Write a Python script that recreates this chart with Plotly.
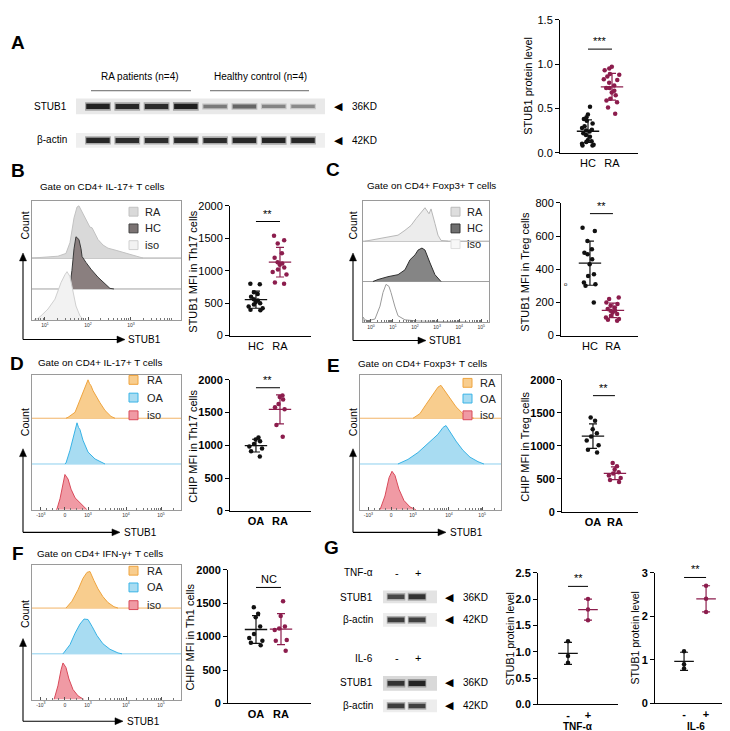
import numpy as np
import plotly.graph_objects as go

W, H = 730, 731
FONT = "Liberation Sans, Arial, sans-serif"

# ======================= DATA =======================
# Panel A western blot (relative band intensity, 0-1)
A_LANES = [1, 2, 3, 4, 5, 6, 7, 8]
A_STUB1 = [0.93, 0.9, 0.88, 0.95, 0.5, 0.6, 0.45, 0.42]
A_ACTIN = [0.9, 0.88, 0.87, 0.9, 0.88, 0.9, 0.92, 0.9]
A_GROUPS = ["RA patients (n=4)", "Healthy control (n=4)"]
# Panel A quantification
A_CATS = ["HC", "RA"]
A_HC = [0.52, 0.43, 0.40, 0.38, 0.36, 0.33, 0.30, 0.28, 0.26, 0.25, 0.24,
        0.22, 0.20, 0.18, 0.14, 0.13, 0.12, 0.10, 0.09, 0.08, 0.08]
A_RA = [0.97, 0.93, 0.95, 0.88, 0.89, 0.86, 0.83, 0.82, 0.79, 0.76, 0.73,
        0.73, 0.70, 0.68, 0.65, 0.61, 0.59, 0.57, 0.51, 0.44]

# Panel B
B_HC = [800, 790, 670, 640, 600, 560, 540, 520, 500, 480, 450, 420, 400, 390]
B_RA = [1540, 1470, 1420, 1270, 1200, 1130, 1110, 1090, 1050, 1020, 980, 940, 820, 800]
B_RA_CH = [0, 107, 174, 228, 255, 282, 302, 315, 336, 356, 376, 389, 403, 423, 443, 477, 510, 564, 624, 691, 745]
B_RA_Y = [0.0, 0.03, 0.06, 0.15, 0.5, 1.3, 1.65, 1.69, 1.5, 1.35, 1.15, 1.0, 0.98, 0.8, 0.6, 0.42, 0.32, 0.25, 0.16, 0.06, 0.0]
B_HC_CH = [228, 255, 268, 282, 295, 315, 329, 336, 362, 396, 443, 490, 523, 550]
B_HC_Y = [0, 0.1, 0.6, 1.3, 1.69, 1.6, 1.3, 1.05, 0.86, 0.64, 0.38, 0.16, 0.02, 0]
B_ISO_CH = [13, 40, 60, 107, 154, 195, 221, 235, 255, 275, 295, 322, 349]
B_ISO_Y = [0, 0.05, 0.13, 0.35, 0.67, 1.21, 1.46, 1.56, 1.4, 0.89, 0.45, 0.13, 0]

# Panel C
C_HC = [650, 630, 570, 520, 500, 490, 460, 430, 370, 360, 320, 310, 300, 200]
C_RA = [230, 220, 200, 190, 180, 170, 160, 150, 150, 140, 130, 120, 110, 100, 95, 90]
C_RA_CH = [16, 175, 278, 333, 381, 421, 460, 492, 524, 540, 571, 595, 619, 675]
C_RA_Y = [0.0, 0.1, 0.15, 0.27, 0.39, 0.56, 0.71, 0.83, 0.68, 0.8, 0.44, 0.15, 0.02, 0.0]
C_HC_CH = [79, 119, 198, 278, 333, 373, 413, 437, 468, 492, 532, 571, 619]
C_HC_Y = [0, 0.05, 0.12, 0.17, 0.29, 0.54, 0.66, 0.78, 0.83, 0.78, 0.46, 0.17, 0]
C_ISO_CH = [0, 16, 40, 95, 135, 159, 183, 206, 222, 254, 278, 333, 437, 595, 833]
C_ISO_Y = [0.12, 0.05, 0.03, 0.07, 0.39, 0.73, 0.93, 0.88, 0.73, 0.37, 0.15, 0.05, 0.02, 0.01, 0.0]

# Panel D
D_CATS = ["OA", "RA"]
D_OA = [1120, 1090, 1060, 1020, 980, 950, 910, 830]
D_RA = [1760, 1740, 1700, 1630, 1580, 1550, 1310, 1130]
D_RA_CH = [228, 242, 289, 322, 340, 356, 366, 376, 386, 396, 410, 423, 456, 490, 530, 557]
D_RA_Y = [0, 0.02, 0.13, 0.41, 0.55, 0.71, 0.78, 0.84, 0.76, 0.71, 0.6, 0.52, 0.34, 0.17, 0.04, 0]
D_OA_CH = [221, 228, 255, 275, 288, 295, 302, 312, 322, 342, 376, 423, 490]
D_OA_Y = [0, 0.02, 0.3, 0.58, 0.7, 0.86, 0.9, 0.8, 0.75, 0.52, 0.26, 0.11, 0]
D_ISO_CH = [161, 168, 188, 208, 221, 242, 262, 289, 322, 356, 369]
D_ISO_Y = [0, 0.02, 0.24, 0.58, 0.77, 0.67, 0.45, 0.26, 0.15, 0.04, 0]

# Panel E
E_OA = [1430, 1380, 1250, 1190, 1140, 1080, 1010, 940, 900]
E_RA = [740, 690, 640, 600, 580, 550, 510, 480, 450]
E_RA_CH = [376, 425, 468, 510, 553, 574, 603, 638, 681, 730, 780, 808]
E_RA_Y = [0, 0.1, 0.3, 0.5, 0.68, 0.72, 0.6, 0.45, 0.25, 0.1, 0.02, 0]
E_OA_CH = [269, 340, 411, 468, 518, 553, 589, 610, 638, 681, 730, 780, 837, 879]
E_OA_Y = [0, 0.1, 0.25, 0.4, 0.55, 0.65, 0.8, 0.84, 0.7, 0.5, 0.3, 0.15, 0.05, 0]
E_ISO_CH = [142, 177, 206, 227, 248, 276, 312, 355, 397]
E_ISO_Y = [0, 0.3, 0.7, 0.84, 0.75, 0.45, 0.2, 0.06, 0]

# Panel F
F_OA = [1440, 1340, 1290, 1150, 1040, 980, 940, 910, 870]
F_RA = [1530, 1310, 1150, 1120, 1100, 950, 940, 790]
F_RA_CH = [228, 268, 309, 342, 369, 389, 416, 443, 476, 510, 550, 577]
F_RA_Y = [0, 0.15, 0.4, 0.65, 0.78, 0.8, 0.6, 0.42, 0.25, 0.12, 0.03, 0]
F_OA_CH = [208, 255, 289, 322, 349, 376, 403, 436, 476, 523, 577, 604]
F_OA_Y = [0, 0.2, 0.45, 0.65, 0.76, 0.75, 0.6, 0.4, 0.22, 0.1, 0.02, 0]
F_ISO_CH = [148, 174, 195, 208, 228, 248, 275, 309, 349]
F_ISO_Y = [0, 0.3, 0.65, 0.8, 0.7, 0.45, 0.22, 0.08, 0]

# Panel G
G_CATS = ["-", "+"]
G_LANES = [1, 2]
G_TNF_STUB1 = [0.75, 0.85]
G_TNF_ACTIN = [0.8, 0.78]
G_IL6_STUB1 = [0.85, 0.92]
G_IL6_ACTIN = [0.8, 0.78]
G1_MINUS = [1.2, 0.92, 0.79]
G1_PLUS = [2.0, 1.8, 1.6]
G2_MINUS = [1.2, 0.9, 0.8]
G2_PLUS = [2.7, 2.4, 2.1]

# ======================= HELPERS =======================
def X(p):
    return p / W


def Y(p):
    return 1 - p / H


layout = dict(width=W, height=H, margin=dict(l=0, r=0, t=0, b=0),
              paper_bgcolor="white", plot_bgcolor="white", showlegend=False,
              font=dict(family=FONT, size=11, color="black"))
traces, shapes, annots = [], [], []
naxes = [0]


def new_axes(x0, x1, y0, y1, xkw, ykw):
    naxes[0] += 1
    n = naxes[0]
    s = "" if n == 1 else str(n)
    base = dict(showgrid=False, zeroline=False, fixedrange=True)
    layout["xaxis" + s] = dict(base, domain=[X(x0), X(x1)], anchor="y" + s, **xkw)
    layout["yaxis" + s] = dict(base, domain=[Y(y1), Y(y0)], anchor="x" + s, **ykw)
    return "x" + s, "y" + s


def text(x, y, t, size=10.5, xanchor="center", angle=0, bold=False, color="black", family=FONT):
    if bold:
        t = "<b>" + t + "</b>"
    annots.append(dict(x=X(x), y=Y(y), xref="paper", yref="paper", text=t, showarrow=False,
                       xanchor=xanchor, yanchor="middle", textangle=angle,
                       font=dict(size=size, color=color, family=family)))


def axis_arrows(x0, y_tip, y0, x_tip):
    """L-shaped Count/STUB1 axis: corner (x0, y0), vertical tip y_tip, horizontal tip x_tip."""
    shapes.append(dict(type="line", xref="paper", yref="paper", x0=X(x0), x1=X(x0), y0=Y(y0), y1=Y(y_tip + 6),
                       line=dict(color="black", width=1.1)))
    shapes.append(dict(type="line", xref="paper", yref="paper", x0=X(x0), x1=X(x_tip - 6), y0=Y(y0), y1=Y(y0),
                       line=dict(color="black", width=1.1)))
    up = f"M {X(x0)} {Y(y_tip)} L {X(x0 - 3.5)} {Y(y_tip + 8)} L {X(x0 + 3.5)} {Y(y_tip + 8)} Z"
    rt = f"M {X(x_tip)} {Y(y0)} L {X(x_tip - 8)} {Y(y0 - 3.5)} L {X(x_tip - 8)} {Y(y0 + 3.5)} Z"
    for p in (up, rt):
        shapes.append(dict(type="path", xref="paper", yref="paper", path=p, fillcolor="black",
                           line=dict(color="black", width=0.5)))


def hline(x0, x1, y, color="#666", width=1):
    shapes.append(dict(type="line", xref="paper", yref="paper", x0=X(x0), x1=X(x1), y0=Y(y), y1=Y(y),
                       line=dict(color=color, width=width)))


def square(xc, yc, fill, border, s=8):
    shapes.append(dict(type="rect", xref="paper", yref="paper", x0=X(xc - s / 2), x1=X(xc + s / 2),
                       y0=Y(yc + s / 2), y1=Y(yc - s / 2), fillcolor=fill, line=dict(color=border, width=1)))


def blot(x0, x1, y0, y1, lanes, intens, xr, bg):
    xa, ya = new_axes(x0, x1, y0, y1, dict(range=xr, visible=False), dict(range=[-1, 1], visible=False))
    shapes.append(dict(type="rect", xref=xa + " domain", yref=ya + " domain", x0=0, x1=1, y0=0, y1=1,
                       fillcolor=bg, line=dict(width=0), layer="below"))
    for ln, v in zip(lanes, intens):
        g = int(225 - 205 * v)
        traces.append(go.Scatter(x=[ln - 0.44, ln + 0.44], y=[0, 0], xaxis=xa, yaxis=ya, mode="lines",
                                 line=dict(color=f"rgba({g},{g},{g},0.35)", width=3 + 6 * v), hoverinfo="skip"))
        traces.append(go.Scatter(x=[ln - 0.4, ln + 0.4], y=[0, 0], xaxis=xa, yaxis=ya, mode="lines",
                                 line=dict(color=f"rgb({g},{g},{g})", width=1.5 + 4 * v), hoverinfo="skip"))


def hist_panel(box, yr, lanes, tickvals, ticktext, minor, frame="#9a9a9a"):
    x0, y0, x1, y1 = box
    xa, ya = new_axes(x0, x1, y0, y1,
                      dict(range=[0, 1000], showline=True, mirror=True, linecolor=frame, linewidth=1,
                           ticks="inside", ticklen=3, tickcolor="#555", tickvals=tickvals, ticktext=ticktext,
                           tickfont=dict(size=5, color="#333"), ticklabelstandoff=0,
                           minor=dict(tickvals=minor, ticks="inside", ticklen=2, tickcolor="#777")),
                      dict(range=yr, showline=True, mirror=True, linecolor=frame, linewidth=1,
                           showticklabels=False, ticks=""))
    n = len(lanes)
    for i, (ch, vals, fill, line, basecol) in enumerate(lanes):
        base = n - 1 - i
        if base > 0:
            traces.append(go.Scatter(x=[0, 1000], y=[base, base], xaxis=xa, yaxis=ya, mode="lines",
                                     line=dict(color=basecol, width=1), hoverinfo="skip"))
        xs = [ch[0]] + list(ch) + [ch[-1]]
        ys = [base] + [base + v for v in vals] + [base]
        traces.append(go.Scatter(x=xs, y=ys, xaxis=xa, yaxis=ya, mode="lines", fill="toself",
                                 fillcolor=fill, line=dict(color=line, width=1), hoverinfo="skip"))
    return xa, ya


def dot_panel(x0, x1, y0, y1, xr, yr, ytickvals, yticktext, cats, groups, colors, sig_text, sig_y,
              bold=False, jitter=0.9, msize=4.5, mean_w=16, cap=4):
    def b(s):
        return f"<b>{s}</b>" if bold else s
    xa, ya = new_axes(x0, x1, y0, y1,
                      dict(range=xr, showline=True, linecolor="black", linewidth=1, ticks="",
                           tickvals=list(range(len(cats))), ticktext=[b(c) for c in cats],
                           tickfont=dict(size=11, color="black")),
                      dict(range=yr, showline=True, linecolor="black", linewidth=1, ticks="outside",
                           ticklen=4, tickwidth=1, tickcolor="black", tickvals=ytickvals,
                           ticktext=[b(t) for t in yticktext], tickfont=dict(size=11, color="black")))
    for i, (vals, c) in enumerate(zip(groups, colors)):
        traces.append(go.Box(x=[i] * len(vals), y=vals, xaxis=xa, yaxis=ya, boxpoints="all",
                             jitter=jitter, pointpos=0, width=0.8, fillcolor="rgba(0,0,0,0)",
                             line=dict(width=0, color="rgba(0,0,0,0)"), marker=dict(size=msize, color=c),
                             hoverinfo="skip"))
        m = float(np.mean(vals))
        sd = float(np.std(vals, ddof=1))
        traces.append(go.Scatter(x=[i], y=[m], xaxis=xa, yaxis=ya, mode="markers",
                                 marker=dict(symbol="line-ew", size=mean_w, line=dict(color=c, width=1.3)),
                                 error_y=dict(type="data", array=[sd], color=c, thickness=1.2, width=cap),
                                 hoverinfo="skip"))
    shapes.append(dict(type="line", xref=xa, yref=ya, x0=0, x1=1, y0=sig_y, y1=sig_y,
                       line=dict(color="black", width=1)))
    annots.append(dict(x=0.5, y=sig_y, xref=xa, yref=ya, text=sig_text, showarrow=False,
                       yanchor="bottom", font=dict(size=11, color="black", family=FONT)))
    return xa, ya


BLK = "#111111"
MAR = "#8c1d4d"
GREY_B = ("#d9d9d9", "#c2c2c2")
DARK_B = ("#8a7f7f", "#3a3a3a")
ISO_B = ("#f2f2f2", "#d0d0d0")
ORA = ("#f8cd8e", "#efa43e")
BLU = ("#a8dcf2", "#38b3e6")
RED = ("#f09aa4", "#d84a5a")


def log_minor(c0, dec, lo=0, hi=1000):
    out = []
    for k in range(-2, 6):
        for m in range(2, 10):
            v = c0 + dec * (k + np.log10(m))
            if lo < v < hi:
                out.append(float(v))
    return out


SUP = ["10<sup>%d</sup>" % k for k in range(0, 6)]
BIEX_VALS = [60, 221, 376, 631, 866]
BIEX_TXT = ["-10<sup>3</sup>", "0", "10<sup>3</sup>", "10<sup>4</sup>", "10<sup>5</sup>"]
BIEX_MINOR = [100, 140, 180, 260, 300, 340] + log_minor(376, 250, 380, 1000)
TS = 9.8  # histogram title size

# ======================= PANEL A =======================
text(10, 29, "A", size=19, bold=True)
text(132, 64, A_GROUPS[0], size=10)
text(252, 64, A_GROUPS[1], size=10)
hline(83, 183, 78)
hline(202, 301, 78)
blot(68, 317, 86, 102, A_LANES, A_STUB1, [0.25, 8.75], "#e9e9e9")
blot(68, 317, 121, 136, A_LANES, A_ACTIN, [0.25, 8.75], "#efefef")
text(61, 94, "STUB1", size=10, xanchor="right")
text(61, 128, "β-actin", size=10, xanchor="right")
for yy, kd in [(94, "36KD"), (129, "42KD")]:
    text(330, yy, "◀", size=11, family="DejaVu Sans")
    text(342, yy, kd, size=10, xanchor="left")

dot_panel(552, 630, 6, 141, [-1.167, 2.083], [0, 1.5], [0, 0.5, 1.0, 1.5], ["0.0", "0.5", "1.0", "1.5"],
          A_CATS, [A_HC, A_RA], [BLK, MAR], "***", 1.17)
text(520, 73, "STUB1 protein level", size=11, angle=-90)

# ======================= PANEL B =======================
text(10, 159, "B", size=19, bold=True)
text(94, 175, "Gate on CD4+ IL-17+ T cells", size=TS)
hist_panel((24, 190, 173, 311), [0, 3.85],
           [(B_RA_CH, B_RA_Y, GREY_B[0], GREY_B[1], "#a0a0a0"),
            (B_HC_CH, B_HC_Y, DARK_B[0], DARK_B[1], "#a0a0a0"),
            (B_ISO_CH, B_ISO_Y, ISO_B[0], ISO_B[1], "#a0a0a0")],
           [87, 376, 664], SUP[1:4], log_minor(87, 288))
for yy, lab, (f, l) in [(201, "RA", GREY_B), (218, "HC", ("#7b7373", "#444")), (235, "iso", ISO_B)]:
    square(125.5, yy, f, l, 9)
    text(135, yy, lab, size=11, xanchor="left", color="#222")
text(17, 215, "Count", size=10.5, angle=-90)
axis_arrows(15, 243, 331, 117)
text(118, 331, "STUB1", size=10, xanchor="left")

dot_panel(222, 303, 195, 327, [-1.08, 2.29], [0, 2000], [0, 500, 1000, 1500, 2000],
          ["0", "500", "1000", "1500", "2000"], A_CATS, [B_HC, B_RA], [BLK, MAR], "**", 1758)
text(185, 262, "STUB1 MFI in Th17 cells", size=11, angle=-90)

# ======================= PANEL C =======================
text(325, 158, "C", size=19, bold=True)
text(423, 174, "Gate on CD4+ Foxp3+ T cells", size=TS)
hist_panel((355, 190, 481, 313), [0, 3.0],
           [(C_RA_CH, C_RA_Y, "#ececec", "#b8b8b8", "#a0a0a0"),
            (C_HC_CH, C_HC_Y, "#858585", "#2f2f2f", "#a0a0a0"),
            (C_ISO_CH, C_ISO_Y, "rgba(255,255,255,1)", "#9a9a9a", "#a0a0a0")],
           [63, 238, 413, 588, 763, 938], SUP[0:6], log_minor(63, 175))
for yy, lab, (f, l) in [(201, "RA", ("#dedede", "#bbb")), (218, "HC", ("#6f6f6f", "#333")),
                        (234, "iso", ("#f7f7f7", "#ddd"))]:
    square(447.5, yy, f, l, 9)
    text(457, yy, lab, size=11, xanchor="left", color="#222")
text(345, 215, "Count", size=10.5, angle=-90)
axis_arrows(345, 243, 332, 418)
text(419, 332, "STUB1", size=10, xanchor="left")

dot_panel(553, 630, 192, 327, [-1.26, 2.09], [0, 800], [0, 200, 400, 600, 800],
          ["0", "200", "400", "600", "800"], A_CATS, [C_HC, C_RA], [BLK, MAR], "**", 735)
text(517, 262, "STUB1 MFI in Treg cells", size=11, angle=-90)
text(558, 275, "o", size=6)

# ======================= PANEL D =======================
text(9, 355, "D", size=19, bold=True)
text(92, 354, "Gate on CD4+ IL-17+ T cells", size=TS)
hist_panel((24, 367, 173, 504), [0, 2.946],
           [(D_RA_CH, D_RA_Y, ORA[0], ORA[1], "#f2b366"),
            (D_OA_CH, D_OA_Y, BLU[0], BLU[1], "#8ccfee"),
            (D_ISO_CH, D_ISO_Y, RED[0], RED[1], "#d84a5a")],
           BIEX_VALS, BIEX_TXT, BIEX_MINOR)
for yy, lab, (f, l) in [(372, "RA", ORA), (390, "OA", BLU), (408, "iso", RED)]:
    square(125.5, yy, f, l, 9)
    text(137, yy, lab, size=11, xanchor="left", color="#222")
text(17, 415, "Count", size=10.5, angle=-90)
axis_arrows(15, 442, 527, 112)
text(114, 527, "STUB1", size=10, xanchor="left")

dot_panel(222, 303, 372, 505, [-1.08, 2.29], [0, 2000], [0, 500, 1000, 1500, 2000],
          ["0", "500", "1000", "1500", "2000"], D_CATS, [D_OA, D_RA], [BLK, MAR], "**", 1880, bold=True)
text(185, 440, "CHIP MFI in Th17 cells", size=11, angle=-90)

# ======================= PANEL E =======================
text(325, 357, "E", size=19, bold=True)
text(414, 355, "Gate on CD4+ Foxp3+ T cells", size=TS)
hist_panel((352, 367, 493, 504), [0, 2.946],
           [(E_RA_CH, E_RA_Y, ORA[0], ORA[1], "#f2b366"),
            (E_OA_CH, E_OA_Y, BLU[0], BLU[1], "#8ccfee"),
            (E_ISO_CH, E_ISO_Y, RED[0], RED[1], "#d84a5a")],
           BIEX_VALS, BIEX_TXT, BIEX_MINOR)
for yy, lab, (f, l) in [(375, "RA", ORA), (391, "OA", BLU), (408, "iso", RED)]:
    square(459.5, yy, f, l, 9)
    text(470, yy, lab, size=11, xanchor="left", color="#222")
text(345, 415, "Count", size=10.5, angle=-90)
axis_arrows(345, 442, 527, 438)
text(440, 527, "STUB1", size=10, xanchor="left")

dot_panel(554, 630, 372, 506, [-1.41, 2.05], [0, 2000], [0, 500, 1000, 1500, 2000],
          ["0", "500", "1000", "1500", "2000"], D_CATS, [E_OA, E_RA], [BLK, MAR], "**", 1761, bold=True)
text(517, 440, "CHIP MFI in Treg cells", size=11, angle=-90)

# ======================= PANEL F =======================
text(10, 549, "F", size=19, bold=True)
text(92, 548, "Gate on CD4+ IFN-γ+ T cells", size=TS)
hist_panel((24, 560, 173, 697), [0, 2.946],
           [(F_RA_CH, F_RA_Y, ORA[0], ORA[1], "#f2b366"),
            (F_OA_CH, F_OA_Y, BLU[0], BLU[1], "#8ccfee"),
            (F_ISO_CH, F_ISO_Y, RED[0], RED[1], "#d84a5a")],
           BIEX_VALS, BIEX_TXT, BIEX_MINOR)
for yy, lab, (f, l) in [(566, "RA", ORA), (583, "OA", BLU), (601, "iso", RED)]:
    square(125.5, yy, f, l, 9)
    text(137, yy, lab, size=11, xanchor="left", color="#222")
text(17, 610, "Count", size=10.5, angle=-90)
axis_arrows(15, 635, 719, 115)
text(117, 719, "STUB1", size=10, xanchor="left")

dot_panel(220, 303, 565, 701, [-1.12, 2.2], [0, 2000], [0, 500, 1000, 1500, 2000],
          ["0", "500", "1000", "1500", "2000"], D_CATS, [F_OA, F_RA], [BLK, MAR], "NC", 1735, bold=True)
text(182, 634, "CHIP MFI in Th1 cells", size=11, angle=-90)

# ======================= PANEL G =======================
text(323, 542, "G", size=19, bold=True)
for yt, lab in [(568, "TNF-α"), (655, "IL-6")]:
    text(367, yt, lab, size=10, xanchor="right")
    text(389, yt, G_CATS[0], size=11)
    text(410, yt, G_CATS[1], size=11)
for (y0, y1, yt, lab, vals, bg, kd) in [
        (586, 599, 593, "STUB1", G_TNF_STUB1, "#e3e3e3", "36KD"),
        (609, 623, 616, "β-actin", G_TNF_ACTIN, "#ededed", "42KD"),
        (673, 688, 680, "STUB1", G_IL6_STUB1, "#d9d9d9", "36KD"),
        (697, 710, 703, "β-actin", G_IL6_ACTIN, "#ededed", "42KD")]:
    blot(375, 429, y0, y1, G_LANES, vals, [0.38, 2.95], bg)
    text(367, yt, lab, size=10, xanchor="right")
    text(442, yt, "◀", size=11, family="DejaVu Sans")
    text(453, yt, kd, size=10, xanchor="left")

dot_panel(530, 610, 568, 702, [-1.5, 2.5], [0, 2.5], [0, 0.5, 1.0, 1.5, 2.0, 2.5],
          ["0.0", "0.5", "1.0", "1.5", "2.0", "2.5"], G_CATS, [G1_MINUS, G1_PLUS], [BLK, MAR], "**", 2.24,
          bold=True, jitter=0, mean_w=14, cap=4)
text(502, 635, "STUB1 protein level", size=10.5, angle=-90)
text(570, 724, "TNF-α", size=10, bold=True)

dot_panel(647, 728, 568, 701, [-1.32, 2.36], [0, 3], [0, 1, 2, 3], ["0", "1", "2", "3"],
          G_CATS, [G2_MINUS, G2_PLUS], [BLK, MAR], "**", 2.89, bold=True, jitter=0, mean_w=14, cap=4)
text(627, 635, "STUB1 protein level", size=10.5, angle=-90)
text(688, 724, "IL-6", size=10, bold=True)

layout["shapes"] = shapes
layout["annotations"] = annots
fig = go.Figure(data=traces)
fig.update_layout(**layout)
fig.write_html("out.html")
